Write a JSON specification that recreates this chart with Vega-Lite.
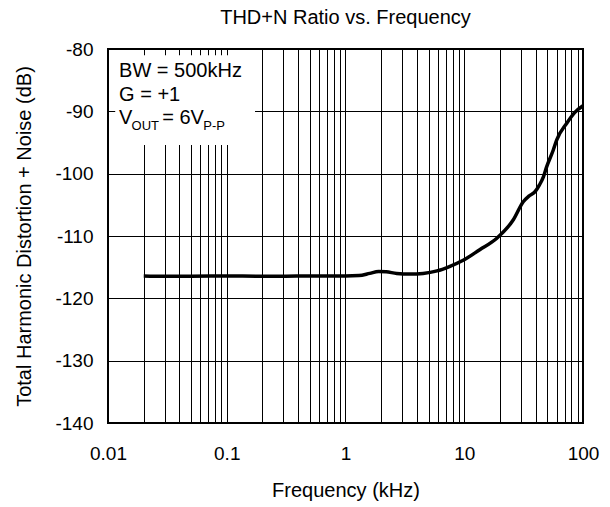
{
  "$schema": "https://vega.github.io/schema/vega-lite/v6.json",
  "autosize": "none",
  "width": 475,
  "height": 374,
  "padding": {"left": 108, "top": 49, "right": 27, "bottom": 84},
  "background": "white",
  "title": {"text": "THD+N Ratio vs. Frequency", "fontSize": 20, "fontWeight": "normal", "color": "black", "offset": 12, "anchor": "middle"},
  "config": {
    "font": "Liberation Sans",
    "view": {"stroke": "black", "strokeWidth": 2},
    "axis": {"gridColor": "black", "gridOpacity": 1, "gridWidth": 1, "labelColor": "black", "titleColor": "black", "labelFontSize": 19, "titleFontSize": 20, "titleFontWeight": "normal", "domain": false, "ticks": false}
  },
  "encoding": {
    "x": {"field": "f", "type": "quantitative", "scale": {"type": "log", "domain": [0.01, 100]},
      "axis": {"title": "Frequency (kHz)", "values": [0.01,0.02,0.03,0.04,0.05,0.06,0.07,0.08,0.09,0.1,0.2,0.3,0.4,0.5,0.6,0.7,0.8,0.9,1,2,3,4,5,6,7,8,9,10,20,30,40,50,60,70,80,90,100],
        "labelExpr": "abs(log(datum.value)/LN10 - round(log(datum.value)/LN10)) < 1e-6 ? format(datum.value, '~g') : ''",
        "labelPadding": 21, "titlePadding": 17, "labelFlush": false, "labelOverlap": false}},
    "y": {"field": "v", "type": "quantitative", "scale": {"domain": [-140, -80]},
      "axis": {"title": "Total Harmonic Distortion + Noise (dB)", "values": [-140,-130,-120,-110,-100,-90,-80], "labelExpr": "'' + datum.value", "labelPadding": 15, "titlePadding": 20}}
  },
  "layer": [
    {
      "data": {"values": [{"f": 0.0115, "f2": 0.173, "v": -81, "v2": -95.4}]},
      "mark": {"type": "rect", "fill": "white", "stroke": null},
      "encoding": {"x2": {"field": "f2"}, "y2": {"field": "v2"}}
    },
    {
      "data": {"values": [
        {"f": 0.02, "v": -116.4}, {"f": 0.03, "v": -116.45}, {"f": 0.05, "v": -116.45}, {"f": 0.1, "v": -116.4},
        {"f": 0.2, "v": -116.45}, {"f": 0.3, "v": -116.45}, {"f": 0.5, "v": -116.4}, {"f": 0.8, "v": -116.4},
        {"f": 1.0, "v": -116.4}, {"f": 1.3, "v": -116.35}, {"f": 1.6, "v": -116.0}, {"f": 1.9, "v": -115.7},
        {"f": 2.2, "v": -115.75}, {"f": 2.7, "v": -116.0}, {"f": 3.5, "v": -116.1}, {"f": 4.5, "v": -116.0},
        {"f": 5.9, "v": -115.6}, {"f": 7.5, "v": -114.9}, {"f": 9.8, "v": -113.9}, {"f": 13.5, "v": -112.2},
        {"f": 18.7, "v": -110.4}, {"f": 25.9, "v": -107.4}, {"f": 31.4, "v": -104.5}, {"f": 35, "v": -103.6},
        {"f": 39.4, "v": -102.9}, {"f": 43, "v": -101.8}, {"f": 46.4, "v": -100.5}, {"f": 49.4, "v": -98.9},
        {"f": 56.2, "v": -96.2}, {"f": 60, "v": -94.6}, {"f": 73, "v": -91.9}, {"f": 85, "v": -90.2}, {"f": 100, "v": -89.1}
      ]},
      "mark": {"type": "line", "color": "black", "strokeWidth": 3.5, "interpolate": "monotone"}
    },
    {
      "data": {"values": [
        {"f": 0.0124, "v": -84.45, "t": "BW = 500kHz"},
        {"f": 0.0124, "v": -88.4, "t": "G = +1"},
        {"f": 0.0124, "v": -92.1, "t": "V"},
        {"f": 0.0286, "v": -92.1, "t": "= 6V"}
      ]},
      "mark": {"type": "text", "align": "left", "baseline": "alphabetic", "fontSize": 20, "color": "black"},
      "encoding": {"text": {"field": "t"}}
    },
    {
      "data": {"values": [
        {"f": 0.0158, "v": -93.0, "t": "OUT"},
        {"f": 0.0635, "v": -93.0, "t": "P-P"}
      ]},
      "mark": {"type": "text", "align": "left", "baseline": "alphabetic", "fontSize": 13, "color": "black"},
      "encoding": {"text": {"field": "t"}}
    }
  ]
}
